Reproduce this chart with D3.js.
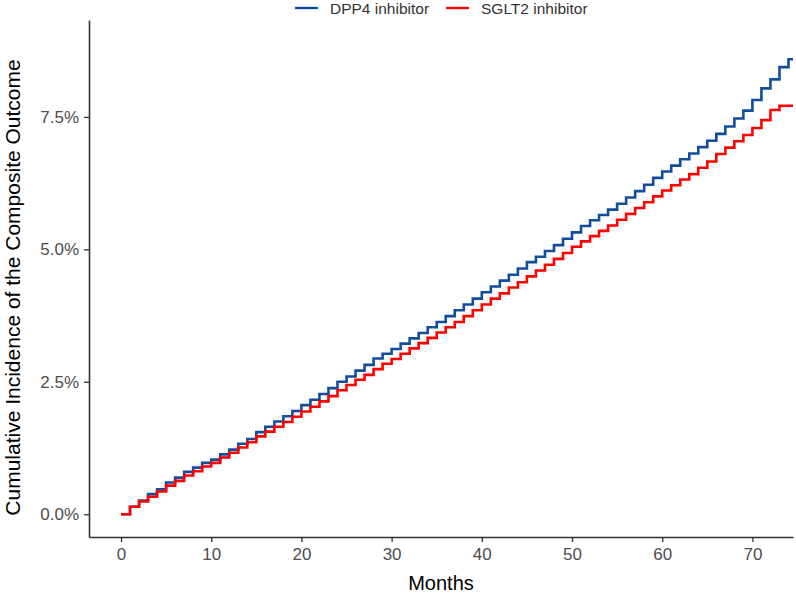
<!DOCTYPE html>
<html>
<head>
<meta charset="utf-8">
<script src="https://cdn.jsdelivr.net/npm/d3@7/dist/d3.min.js"></script>
<style>
    body { margin: 0; background: #ffffff; }
    svg { display: block; font-family: "Liberation Sans", Arial, sans-serif; }
</style>
</head>
<body>
<svg id="chart" width="796" height="594"></svg>
<script>
// monthly cumulative incidence (%)
var months = d3.range(0, 75);
var followUpEnd = 74.5;

var dpp4 = [
    0.00, 0.14, 0.26, 0.38, 0.47, 0.60, 0.69, 0.80, 0.88, 0.97,
    1.03, 1.13, 1.22, 1.33, 1.42, 1.55, 1.65, 1.75, 1.85, 1.95,
    2.06, 2.16, 2.27, 2.38, 2.50, 2.60, 2.71, 2.82, 2.94, 3.03,
    3.12, 3.22, 3.32, 3.42, 3.53, 3.63, 3.74, 3.85, 3.96, 4.07,
    4.19, 4.30, 4.41, 4.52, 4.64, 4.76, 4.86, 4.97, 5.08, 5.20,
    5.32, 5.44, 5.55, 5.65, 5.75, 5.86, 5.98, 6.10, 6.22, 6.35,
    6.47, 6.58, 6.70, 6.81, 6.93, 7.05, 7.18, 7.32, 7.47, 7.62,
    7.82, 8.04, 8.21, 8.44, 8.59
];

var sglt2 = [
    0.00, 0.14, 0.24, 0.33, 0.43, 0.54, 0.63, 0.73, 0.81, 0.90,
    0.97, 1.07, 1.16, 1.26, 1.36, 1.47, 1.56, 1.65, 1.74, 1.84,
    1.94, 2.03, 2.13, 2.23, 2.34, 2.44, 2.54, 2.63, 2.74, 2.84,
    2.93, 3.03, 3.13, 3.23, 3.33, 3.43, 3.53, 3.63, 3.74, 3.85,
    3.96, 4.07, 4.17, 4.28, 4.38, 4.49, 4.60, 4.71, 4.82, 4.93,
    5.05, 5.15, 5.25, 5.35, 5.45, 5.56, 5.67, 5.78, 5.89, 6.00,
    6.11, 6.21, 6.32, 6.42, 6.54, 6.66, 6.80, 6.92, 7.04, 7.16,
    7.29, 7.44, 7.63, 7.71, 7.71
];

var seriesNames = ["DPP4 inhibitor", "SGLT2 inhibitor"];
var seriesColors = ["#114d9c", "#ff0000"];

var xTicks = [0, 10, 20, 30, 40, 50, 60, 70];
var yTicks = [0, 2.5, 5, 7.5];

var svg = d3.select("#chart");

var plotLeft = 89, plotRight = 793, plotTop = 20, plotBottom = 537;

var x = d3.scaleLinear().domain([-3.55, followUpEnd]).range([plotLeft, plotRight]);
var y = d3.scaleLinear().domain([-0.43, 9.33]).range([plotBottom, plotTop]);

function stepPoints(values)
{
    var pts = months.map((m, i) => [m, values[i]]);
    pts.push([followUpEnd, values[values.length - 1]]);
    return pts;
}

var line = d3.line()
    .x(d => x(d[0]))
    .y(d => y(d[1]))
    .curve(d3.curveStepAfter);

//axes
var xAxis = svg.append("g")
    .attr("transform", "translate(0," + plotBottom + ")")
    .call(d3.axisBottom(x).tickValues(xTicks).tickSize(5).tickPadding(6).tickSizeOuter(0));

var yAxis = svg.append("g")
    .attr("transform", "translate(" + plotLeft + ",0)")
    .call(d3.axisLeft(y).tickValues(yTicks).tickSize(5).tickPadding(5).tickSizeOuter(0)
        .tickFormat(d => d.toFixed(1) + "%"));

[xAxis, yAxis].forEach(a => {
    a.select(".domain").attr("stroke", "#333333").attr("stroke-width", 1.6);
    a.selectAll(".tick line").attr("stroke", "#333333").attr("stroke-width", 1.3);
    a.selectAll(".tick text").attr("fill", "#4d4d4d").style("font-size", "17px")
        .style("font-family", "'Liberation Sans', Arial, sans-serif");
});

//curves, blue first so red sits on top
[dpp4, sglt2].forEach((vals, i) => {
    svg.append("path")
        .datum(stepPoints(vals))
        .attr("fill", "none")
        .attr("stroke", seriesColors[i])
        .attr("stroke-width", 2.6)
        .attr("d", line);
});

//axis titles
svg.append("text")
    .attr("x", (plotLeft + plotRight) / 2)
    .attr("y", 590)
    .attr("text-anchor", "middle")
    .style("font-size", "20px")
    .attr("fill", "#000000")
    .text("Months");

svg.append("text")
    .attr("transform", "translate(20," + ((plotTop + plotBottom) / 2 + 9) + ") rotate(-90)")
    .attr("text-anchor", "middle")
    .style("font-size", "21px")
    .attr("fill", "#000000")
    .text("Cumulative Incidence of the Composite Outcome");

//legend
var legendX = [295, 446];
var legend = svg.append("g");

seriesNames.forEach((name, i) => {
    var g = legend.append("g").attr("transform", "translate(" + legendX[i] + ",8)");
    g.append("line").attr("x1", 0).attr("x2", 23).attr("y1", 0).attr("y2", 0)
        .attr("stroke", seriesColors[i]).attr("stroke-width", 2.4);
    g.append("text").attr("x", 35).attr("y", 5.5)
        .style("font-size", "15.5px").attr("fill", "#333333").text(name);
});
</script>
</body>
</html>
